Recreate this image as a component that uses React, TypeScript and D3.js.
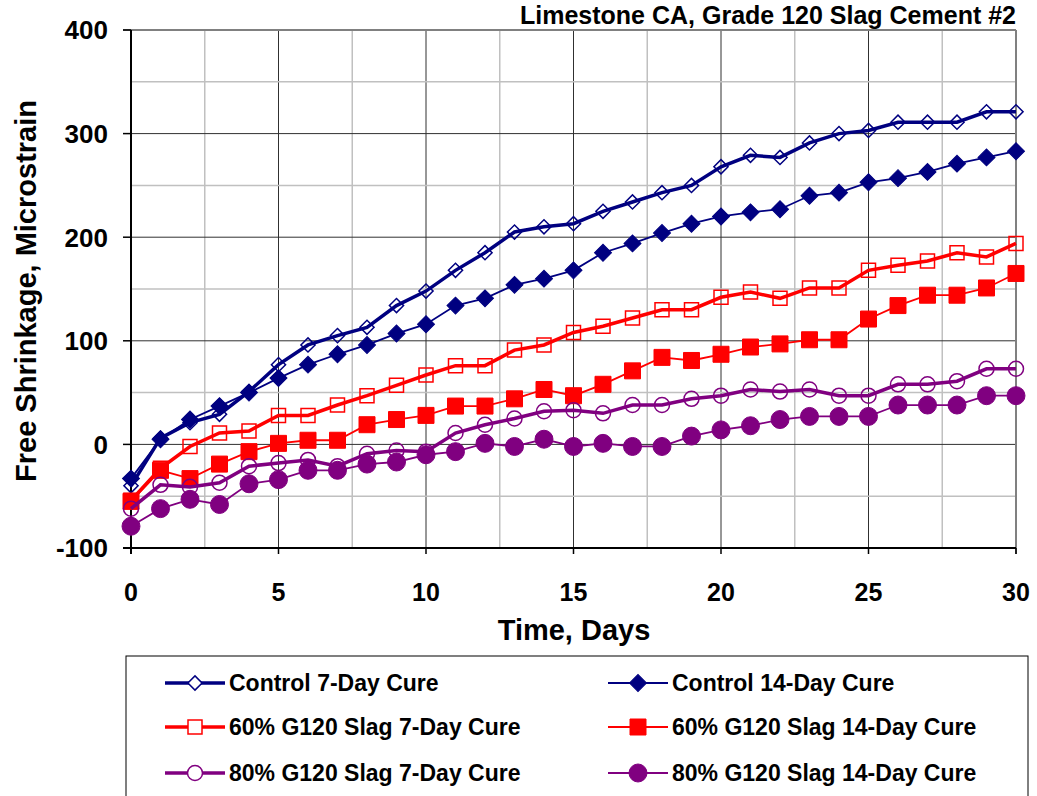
import { line, scaleLinear, select, symbol, symbolSquare, symbolCircle } from 'd3';
import { useEffect, useRef } from 'react';

const days = [0, 1, 2, 3, 4, 5, 6, 7, 8, 9, 10, 11, 12, 13, 14, 15, 16, 17, 18, 19, 20, 21, 22, 23, 24, 25, 26, 27, 28, 29, 30];

const control7 = [-40, 6, 21, 29, 51, 77, 96, 105, 113, 134, 148, 168, 185, 205, 210, 213, 225, 234, 243, 250, 268, 279, 277, 291, 300, 303, 311, 311, 311, 321, 321];
const control14 = [-33, 5, 24, 37, 50, 64, 77, 87, 96, 107, 116, 134, 141, 154, 160, 168, 185, 194, 204, 213, 220, 224, 227, 240, 243, 253, 257, 263, 271, 277, 283];
const slag60_7 = [-54, -23, -2, 11, 13, 28, 28, 38, 47, 57, 67, 76, 76, 91, 96, 108, 114, 122, 130, 130, 142, 147, 141, 151, 151, 168, 173, 177, 185, 181, 194];
const slag60_14 = [-55, -25, -33, -19, -7, 1, 4, 4, 19, 24, 28, 37, 37, 44, 53, 47, 58, 71, 84, 81, 87, 94, 97, 101, 101, 121, 134, 144, 144, 151, 165];
const slag80_7 = [-62, -39, -41, -37, -21, -18, -15, -21, -9, -6, -7, 11, 19, 25, 32, 33, 30, 38, 38, 44, 47, 53, 51, 53, 47, 47, 58, 58, 61, 73, 73];
const slag80_14 = [-79, -62, -53, -58, -38, -34, -25, -25, -19, -17, -10, -7, 1, -2, 5, -2, 1, -2, -2, 8, 14, 18, 24, 27, 27, 27, 38, 38, 38, 47, 47];

const seriesNames = [
  'Control 7-Day Cure',
  'Control 14-Day Cure',
  '60% G120 Slag 7-Day Cure',
  '60% G120 Slag 14-Day Cure',
  '80% G120 Slag 7-Day Cure',
  '80% G120 Slag 14-Day Cure',
];
const seriesValues = [control7, control14, slag60_7, slag60_14, slag80_7, slag80_14];

const xTicks = [0, 5, 10, 15, 20, 25, 30];
const yTicks = [-100, 0, 100, 200, 300, 400];

const navy = '#000080';
const red = '#ff0000';
const purple = '#800080';
// rot: square symbol turned 45deg to make an even diamond
const styles = [
  { color: navy, width: 3.5, shape: symbolSquare, rot: 45, size: 100, filled: false },
  { color: navy, width: 1.8, shape: symbolSquare, rot: 45, size: 144, filled: true },
  { color: red, width: 3.5, shape: symbolSquare, rot: 0, size: 196, filled: false },
  { color: red, width: 1.8, shape: symbolSquare, rot: 0, size: 256, filled: true },
  { color: purple, width: 3.5, shape: symbolCircle, rot: 0, size: 177, filled: false },
  { color: purple, width: 1.8, shape: symbolCircle, rot: 0, size: 254, filled: true },
];

const font = '"Liberation Sans", Arial, sans-serif';

export default function App() {
  const svgRef = useRef<SVGSVGElement>(null);

  useEffect(() => {
    if (!svgRef.current) return;
    const svg = select(svgRef.current);

    const x = scaleLinear().domain([0, 30]).range([131, 1016]);
    const y = scaleLinear().domain([-100, 400]).range([548, 30]);

    const root = svg.append('g');

    // grid: minor (light) and major (dark)
    for (let v = 2.5; v < 30; v += 2.5) {
      const major = v % 5 === 0;
      root
        .append('line')
        .attr('x1', x(v))
        .attr('x2', x(v))
        .attr('y1', y(400))
        .attr('y2', y(-100))
        .attr('stroke', major ? '#303030' : '#c0c0c0')
        .attr('stroke-width', major ? 1 : 1.5);
    }
    for (let v = -50; v < 400; v += 50) {
      const major = v % 100 === 0;
      root
        .append('line')
        .attr('x1', x(0))
        .attr('x2', x(30))
        .attr('y1', y(v))
        .attr('y2', y(v))
        .attr('stroke', major ? '#303030' : '#c0c0c0')
        .attr('stroke-width', major ? 1 : 1.5);
    }
    // frame
    root.append('line').attr('x1', x(0) - 8).attr('x2', x(30)).attr('y1', y(400)).attr('y2', y(400)).attr('stroke', '#808080').attr('stroke-width', 2);
    root.append('line').attr('x1', x(30)).attr('x2', x(30)).attr('y1', y(400)).attr('y2', y(-100) + 6).attr('stroke', '#808080').attr('stroke-width', 2);
    root.append('line').attr('x1', x(0)).attr('x2', x(0)).attr('y1', y(400)).attr('y2', y(-100) + 6).attr('stroke', '#000').attr('stroke-width', 2);
    root.append('line').attr('x1', x(0) - 8).attr('x2', x(30)).attr('y1', y(-100)).attr('y2', y(-100)).attr('stroke', '#000').attr('stroke-width', 2);

    yTicks.forEach((t) => {
      root.append('line').attr('x1', x(0) - 8).attr('x2', x(0)).attr('y1', y(t)).attr('y2', y(t)).attr('stroke', '#000').attr('stroke-width', 1.5);
      root
        .append('text')
        .attr('x', 108)
        .attr('y', y(t))
        .attr('dy', '0.36em')
        .attr('text-anchor', 'end')
        .attr('font-family', font)
        .attr('font-weight', 'bold')
        .attr('font-size', 26)
        .text(t);
    });
    xTicks.forEach((t) => {
      root.append('line').attr('x1', x(t)).attr('x2', x(t)).attr('y1', y(-100)).attr('y2', y(-100) + 6).attr('stroke', '#000').attr('stroke-width', 1.5);
      root
        .append('text')
        .attr('x', x(t))
        .attr('y', 601)
        .attr('text-anchor', 'middle')
        .attr('font-family', font)
        .attr('font-weight', 'bold')
        .attr('font-size', 25)
        .text(t);
    });

    root
      .append('text')
      .attr('x', 574)
      .attr('y', 640)
      .attr('text-anchor', 'middle')
      .attr('font-family', font)
      .attr('font-weight', 'bold')
      .attr('font-size', 29)
      .text('Time, Days');

    root
      .append('text')
      .attr('transform', 'translate(36,291) rotate(-90)')
      .attr('text-anchor', 'middle')
      .attr('font-family', font)
      .attr('font-weight', 'bold')
      .attr('font-size', 29)
      .text('Free Shrinkage, Microstrain');

    root
      .append('text')
      .attr('x', 1016)
      .attr('y', 24)
      .attr('text-anchor', 'end')
      .attr('font-family', font)
      .attr('font-weight', 'bold')
      .attr('font-size', 25)
      .text('Limestone CA, Grade 120 Slag Cement #2');

    const pathLine = line<number>()
      .x((_, i) => x(days[i]))
      .y((d) => y(d));

    seriesValues.forEach((vals, si) => {
      const s = styles[si];
      const g = root.append('g');
      g.append('path')
        .datum(vals)
        .attr('fill', 'none')
        .attr('stroke', s.color)
        .attr('stroke-width', s.width)
        .attr('d', pathLine);
      const sym = symbol().type(s.shape).size(s.size);
      g.selectAll('path.m')
        .data(vals)
        .join('path')
        .attr('class', 'm')
        .attr('transform', (d, i) => `translate(${x(days[i])},${y(d)}) rotate(${s.rot})`)
        .attr('d', sym)
        .attr('fill', s.filled ? s.color : 'none')
        .attr('stroke', s.color)
        .attr('stroke-width', s.filled ? 1 : 1.5);
    });

    // legend
    const lg = root.append('g');
    lg.append('rect')
      .attr('x', 126)
      .attr('y', 656)
      .attr('width', 902)
      .attr('height', 150)
      .attr('fill', '#fff')
      .attr('stroke', '#000')
      .attr('stroke-width', 1);
    seriesNames.forEach((name, si) => {
      const s = styles[si];
      const col = si % 2;
      const row = Math.floor(si / 2);
      const lx = col === 0 ? 165 : 608;
      const ly = [683, 727, 773][row];
      lg.append('line')
        .attr('x1', lx)
        .attr('x2', lx + 60)
        .attr('y1', ly)
        .attr('y2', ly)
        .attr('stroke', s.color)
        .attr('stroke-width', s.width);
      lg.append('path')
        .attr('transform', `translate(${lx + 30},${ly}) rotate(${s.rot})`)
        .attr('d', symbol().type(s.shape).size(s.size)())
        .attr('fill', s.filled ? s.color : '#fff')
        .attr('stroke', s.color)
        .attr('stroke-width', s.filled ? 1 : 1.5);
      lg.append('text')
        .attr('x', lx + 64)
        .attr('y', ly)
        .attr('dy', '0.36em')
        .attr('font-family', font)
        .attr('font-weight', 'bold')
        .attr('font-size', 23)
        .text(name);
    });

    return () => {
      svg.selectAll('*').remove();
    };
  }, []);

  return (
    <svg
      ref={svgRef}
      width={1037}
      height={796}
      style={{ position: 'absolute', left: 0, top: 0, background: '#fff' }}
    />
  );
}
